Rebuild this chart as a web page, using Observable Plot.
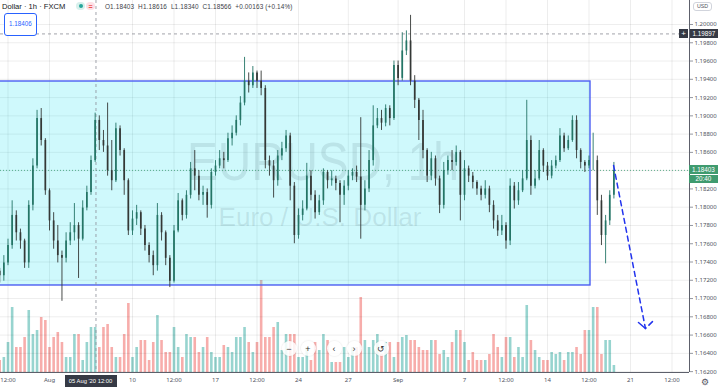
<!DOCTYPE html>
<html><head><meta charset="utf-8">
<script src="https://cdn.jsdelivr.net/npm/d3@7"></script>
<script src="https://cdn.jsdelivr.net/npm/@observablehq/plot@0.6"></script>
<style>
html,body{margin:0;padding:0;background:#fff;}
#wrap{position:relative;width:720px;height:387px;overflow:hidden;font-family:"Liberation Sans",Arial,sans-serif;}
#wrap svg{position:absolute;left:0;top:0;}
.ov{position:absolute;white-space:nowrap;line-height:1;}
.lbl{position:absolute;color:#fff;font-size:6.3px;display:flex;align-items:center;justify-content:center;}
.btn{position:absolute;width:15px;height:15px;border-radius:50%;background:rgba(255,255,255,0.85);box-shadow:0 0 2px rgba(0,0,0,0.15);display:flex;align-items:center;justify-content:center;font-size:9px;color:#333;}
</style></head>
<body><div id="wrap"></div>
<script>
// ---- data: EUR/USD, 6-hour bars (x in trading days from Mon 3 Aug) ----
const firstBar = -3;     // trading-day index of the first bar
const barStep = 0.25;    // 6 hours
const opens = [1.1730,1.1725,1.1739,1.1758,1.1791,1.1772,1.1763,1.1739,1.1802,1.1845,
 1.1897,1.1873,1.1818,1.1785,1.1763,1.1747,1.1744,1.1763,1.1772,1.1780,
 1.1765,1.1799,1.1816,1.1851,1.1895,1.1873,1.1867,1.1840,1.1829,1.1886,
 1.1862,1.1829,1.1774,1.1787,1.1794,1.1776,1.1758,1.1747,1.1736,1.1791,
 1.1772,1.1744,1.1719,1.1774,1.1807,1.1791,1.1813,1.1842,1.1834,1.1813,
 1.1816,1.1802,1.1838,1.1845,1.1853,1.1851,1.1875,1.1881,1.1895,1.1914,
 1.1938,1.1933,1.1947,1.1938,1.1930,1.1851,1.1845,1.1829,1.1856,1.1864,
 1.1878,1.1823,1.1769,1.1791,1.1798,1.1834,1.1813,1.1794,1.1807,1.1838,
 1.1829,1.1831,1.1826,1.1813,1.1823,1.1834,1.1838,1.1833,1.1802,1.1820,
 1.1851,1.1889,1.1897,1.1892,1.1908,1.1897,1.1955,1.1941,1.1971,1.1982,
 1.1938,1.1917,1.1895,1.1862,1.1834,1.1853,1.1831,1.1802,1.1840,1.1851,
 1.1849,1.1860,1.1813,1.1842,1.1834,1.1827,1.1820,1.1813,1.1820,1.1802,
 1.1785,1.1774,1.1780,1.1763,1.1823,1.1807,1.1818,1.1831,1.1873,1.1823,
 1.1831,1.1862,1.1845,1.1834,1.1845,1.1851,1.1878,1.1864,1.1873,1.1895,
 1.1862,1.1849,1.1845,1.1851,1.1851,1.1807,1.1769,1.1785,1.1813];
const highs = [1.1733,1.1747,1.1765,1.1807,1.1796,1.1776,1.1765,1.1807,1.1853,1.1906,
 1.1908,1.1875,1.1820,1.1794,1.1780,1.1752,1.1772,1.1783,1.1804,1.1783,
 1.1807,1.1823,1.1856,1.1903,1.1900,1.1884,1.1914,1.1873,1.1892,1.1889,
 1.1864,1.1831,1.1796,1.1802,1.1796,1.1780,1.1761,1.1752,1.1804,1.1794,
 1.1774,1.1747,1.1780,1.1815,1.1809,1.1818,1.1849,1.1862,1.1840,1.1823,
 1.1820,1.1842,1.1851,1.1862,1.1860,1.1881,1.1889,1.1900,1.1921,1.1964,
 1.1947,1.1954,1.1949,1.1949,1.1933,1.1856,1.1851,1.1862,1.1871,1.1884,
 1.1881,1.1827,1.1798,1.1807,1.1848,1.1840,1.1818,1.1813,1.1842,1.1840,
 1.1840,1.1834,1.1829,1.1829,1.1840,1.1842,1.1845,1.1898,1.1829,1.1862,
 1.1911,1.1908,1.1906,1.1912,1.1911,1.1960,1.1960,1.1991,1.1993,1.2010,
 1.1944,1.1919,1.1906,1.1864,1.1860,1.1856,1.1834,1.1849,1.1856,1.1862,
 1.1867,1.1862,1.1851,1.1845,1.1838,1.1829,1.1823,1.1829,1.1823,1.1807,
 1.1791,1.1791,1.1783,1.1831,1.1827,1.1827,1.1840,1.1917,1.1878,1.1840,
 1.1873,1.1864,1.1849,1.1851,1.1856,1.1886,1.1881,1.1878,1.1900,1.1900,
 1.1864,1.1851,1.1856,1.1881,1.1856,1.1813,1.1791,1.1818,1.1849];
const lows = [1.1717,1.1719,1.1736,1.1754,1.1763,1.1754,1.1733,1.1733,1.1796,1.1842,
 1.1867,1.1813,1.1774,1.1754,1.1739,1.1697,1.1739,1.1758,1.1763,1.1722,
 1.1763,1.1796,1.1813,1.1849,1.1862,1.1860,1.1834,1.1818,1.1827,1.1856,
 1.1813,1.1769,1.1769,1.1780,1.1769,1.1752,1.1739,1.1725,1.1730,1.1763,
 1.1736,1.1712,1.1717,1.1772,1.1785,1.1787,1.1809,1.1818,1.1807,1.1802,
 1.1788,1.1798,1.1834,1.1842,1.1842,1.1849,1.1867,1.1878,1.1889,1.1911,
 1.1925,1.1930,1.1930,1.1922,1.1842,1.1834,1.1810,1.1823,1.1851,1.1860,
 1.1807,1.1760,1.1765,1.1785,1.1796,1.1807,1.1787,1.1791,1.1802,1.1820,
 1.1823,1.1818,1.1783,1.1802,1.1818,1.1829,1.1827,1.1765,1.1796,1.1816,
 1.1845,1.1886,1.1884,1.1888,1.1889,1.1895,1.1933,1.1938,1.1966,1.1933,
 1.1908,1.1873,1.1853,1.1827,1.1829,1.1823,1.1793,1.1798,1.1835,1.1840,
 1.1845,1.1785,1.1807,1.1827,1.1820,1.1813,1.1807,1.1809,1.1794,1.1776,
 1.1768,1.1769,1.1754,1.1758,1.1798,1.1802,1.1816,1.1829,1.1813,1.1820,
 1.1829,1.1838,1.1829,1.1831,1.1842,1.1849,1.1860,1.1862,1.1871,1.1853,
 1.1842,1.1838,1.1842,1.1840,1.1791,1.1758,1.1738,1.1780,1.1809];
const closes = [1.1725,1.1739,1.1758,1.1791,1.1772,1.1763,1.1739,1.1802,1.1845,1.1897,
 1.1873,1.1818,1.1785,1.1763,1.1747,1.1744,1.1763,1.1772,1.1780,1.1765,
 1.1799,1.1816,1.1851,1.1895,1.1873,1.1867,1.1840,1.1829,1.1886,1.1862,
 1.1829,1.1774,1.1787,1.1794,1.1776,1.1758,1.1747,1.1736,1.1791,1.1772,
 1.1744,1.1719,1.1774,1.1807,1.1791,1.1813,1.1842,1.1834,1.1813,1.1816,
 1.1802,1.1838,1.1845,1.1853,1.1851,1.1875,1.1881,1.1895,1.1914,1.1938,
 1.1933,1.1947,1.1938,1.1930,1.1851,1.1845,1.1829,1.1856,1.1864,1.1878,
 1.1823,1.1769,1.1791,1.1798,1.1834,1.1813,1.1794,1.1807,1.1838,1.1829,
 1.1831,1.1826,1.1813,1.1823,1.1834,1.1838,1.1833,1.1802,1.1820,1.1851,
 1.1889,1.1897,1.1892,1.1908,1.1897,1.1955,1.1941,1.1971,1.1982,1.1938,
 1.1917,1.1895,1.1862,1.1834,1.1853,1.1831,1.1802,1.1840,1.1851,1.1849,
 1.1860,1.1813,1.1842,1.1834,1.1827,1.1820,1.1813,1.1820,1.1802,1.1785,
 1.1774,1.1780,1.1763,1.1823,1.1807,1.1818,1.1831,1.1873,1.1823,1.1831,
 1.1862,1.1845,1.1834,1.1845,1.1851,1.1878,1.1864,1.1873,1.1895,1.1862,
 1.1849,1.1845,1.1851,1.1851,1.1807,1.1769,1.1785,1.1813,1.18403];
const volumes = [1200,1500,3000,6500,2500,2500,3500,6200,3800,4200,
 5500,5200,2500,3500,4000,3000,1500,1500,3800,3800,
 1200,3000,4500,4500,2500,4500,4800,2500,1500,1500,
 3800,6900,1500,2500,3200,3200,1200,3000,5700,3200,
 2000,2000,4500,2500,1500,3800,3500,3500,2000,2500,
 3500,2000,1500,1500,2700,2500,2000,3500,3500,4500,
 3000,2000,3000,9200,3500,3500,4500,5000,2200,3800,
 3800,3800,1500,1500,2500,1200,3000,2200,3800,3200,
 1000,1000,1000,2500,1500,2500,2500,7500,3200,2500,
 3200,3800,1800,3000,3000,1500,3000,3500,3700,3200,
 3200,2500,2200,2200,3200,3200,1800,2200,1500,3000,
 4200,4200,3000,1200,2000,1200,1200,1200,1800,3800,
 2500,1500,3500,3500,1500,2500,1500,6700,3200,2200,
 1500,1200,1200,2000,1800,2000,1200,2000,2000,2500,
 1800,4200,4200,6500,6500,1800,3200,3200,700];

// axis ticks (the 1.18400 label sits under the last-price tag, as in the reference)
const priceTicks = [1.162,1.164,1.166,1.168,1.170,1.172,1.174,1.176,1.178,1.180,
 1.182,1.184,1.186,1.188,1.190,1.192,1.194,1.196,1.198,1.200];
const hiddenTickLabels = [1.184];
const timeTicks  = [-2.5, 0, 5, 7.5, 10, 12.5, 15, 18, 21, 25, 27.5, 30, 32.5, 35, 37.5];
const timeLabels = ["12:00","Aug","10","12:00","17","12:00","24","27","Sep","7","12:00","14","12:00","21","12:00"];

// drawings
const zoneDays = [-4, 32.59];
const zonePrices = [1.17143, 1.19376];
const projDays = [33.98, 35.9, 36.33];
const projPrices = [1.18457, 1.16672, 1.16749];
const wingDays = [35.48, 35.9];
const wingPrices = [1.16738, 1.16672];
const lastPrice = 1.18403;
const crossPrice = 1.19897;
const crossDay = 2.8;
const cursorLabelDay = 2.5;
const cursorLabel = "05 Aug '20   12:00";
const countdown = "20:40";
const ohlcNames = ["O","H","L","C"];
const ohlcValues = ["1.18403","1.18616","1.18340","1.18566"];
const changeText = "+0.00163 (+0.14%)";
const noteLabel = "1.18406";

// visible window
const xDomain = [-2.952, 38.554];
const yDomain = [1.161905, 1.202627];

const candles = opens.map((o, i) => ({
  d: firstBar + i * barStep, o, h: highs[i], l: lows[i], c: closes[i], v: volumes[i],
  up: closes[i] >= o
}));

const W = 720, H = 387;
const base = {width: W, height: H, marginLeft: 0, marginRight: 31, marginTop: 0, marginBottom: 15,
  style: {background: "transparent", overflow: "visible"}};

// volume layer
const volPlot = Plot.plot({
  ...base, marginTop: 272,
  x: {domain: xDomain, axis: null},
  y: {domain: [0, 10000], axis: null},
  marks: [
    Plot.ruleX(candles, {x: "d", y1: () => 0, y2: "v", stroke: d => d.up ? "#26a69a" : "#ef5350",
      strokeOpacity: 0.48, strokeWidth: 2.6})
  ]
});

const upCol = "#247566", dnCol = "#343836";
const zone = [{x1: zoneDays[0], x2: zoneDays[1], y1: zonePrices[0], y2: zonePrices[1]}];
const proj = projDays.map((d, i) => ({d, p: projPrices[i]}));
const wing = wingDays.map((d, i) => ({d, p: wingPrices[i]}));

const pricePlot = Plot.plot({
  ...base,
  x: {domain: xDomain, axis: null},
  y: {domain: yDomain, axis: null},
  marks: [
    Plot.gridY(priceTicks, {stroke: "#000", strokeOpacity: 0.07}),
    Plot.gridX(timeTicks, {stroke: "#000", strokeOpacity: 0.07}),
    Plot.rect(zone, {x1: "x1", x2: "x2", y1: "y1", y2: "y2", fill: "rgb(0,222,240)", fillOpacity: 0.19,
      stroke: "#4b5ef2", strokeWidth: 1.4, clip: true}),
    Plot.text(["EURUSD, 1h"], {frameAnchor: "middle", dx: -22, dy: -24, fontSize: 54,
      fill: "rgb(90,120,130)", fillOpacity: 0.16, fontFamily: "Liberation Sans"}),
    Plot.text(["Euro / U.S. Dollar"], {frameAnchor: "middle", dx: -25, dy: 31, fontSize: 25,
      fill: "rgb(90,120,130)", fillOpacity: 0.16, fontFamily: "Liberation Sans"}),
    Plot.ruleY([crossPrice], {stroke: "#8a8d96", strokeDasharray: "3,3", strokeWidth: 0.8}),
    Plot.ruleY([lastPrice], {stroke: "#3a9a70", strokeDasharray: "1,2", strokeWidth: 0.8}),
    Plot.ruleX([crossDay], {stroke: "#8a8d96", strokeDasharray: "3,3", strokeWidth: 0.8}),
    Plot.ruleX(candles, {x: "d", y1: "l", y2: "h", stroke: d => d.up ? upCol : dnCol, strokeWidth: 0.9}),
    Plot.ruleX(candles, {x: "d", y1: "o", y2: "c", stroke: d => d.up ? upCol : dnCol, strokeWidth: 1.7}),
    Plot.line(proj, {x: "d", y: "p", stroke: "#2233ee", strokeWidth: 1.5, strokeDasharray: "5,4"}),
    Plot.line(wing, {x: "d", y: "p", stroke: "#2233ee", strokeWidth: 1.5}),
    Plot.ruleX([xDomain[1]], {stroke: "#5d606b", strokeWidth: 1}),
    Plot.ruleY([yDomain[0]], {stroke: "#5d606b", strokeWidth: 1}),
    Plot.axisY(priceTicks, {anchor: "right", tickSize: 3, tickPadding: 2,
      tickFormat: d => hiddenTickLabels.includes(d) ? "" : d.toFixed(5),
      fontSize: 6, fill: "#50535e", stroke: "#9598a1", label: null}),
    Plot.axisX(timeTicks, {anchor: "bottom", tickSize: 0, tickPadding: 5,
      tickFormat: d => timeLabels[timeTicks.indexOf(d)], fontSize: 6, fill: "#50535e", label: null})
  ]
});

const wrap = document.getElementById("wrap");
wrap.appendChild(volPlot);
wrap.appendChild(pricePlot);

// squeeze watermark to the reference width
pricePlot.querySelectorAll("text").forEach(t => {
  if (t.textContent === "EURUSD, 1h") { t.setAttribute("textLength", 272); t.setAttribute("lengthAdjust", "spacingAndGlyphs"); }
  if (t.textContent === "Euro / U.S. Dollar") { t.setAttribute("textLength", 203); t.setAttribute("lengthAdjust", "spacingAndGlyphs"); }
});

const xs = pricePlot.scale("x"), ys = pricePlot.scale("y");
function add(html, css, cls) {
  const e = document.createElement("div");
  e.className = cls || "ov";
  e.innerHTML = html;
  Object.assign(e.style, css);
  wrap.appendChild(e);
  return e;
}

// header legend
add("Dollar · 1h · FXCM", {left: "2px", top: "3px", fontSize: "7.6px", color: "#131722"});
add("<span style='display:inline-block;width:4px;height:4px;border-radius:50%;background:#26a69a'></span>",
  {left: "76px", top: "2px", width: "9px", height: "8px", borderRadius: "4px", background: "#d7f0ec",
   display: "flex", alignItems: "center", justifyContent: "center"});
add("=", {left: "86px", top: "2px", width: "9px", height: "8px", borderRadius: "4px", background: "#fde0e6",
   color: "#ef5350", fontSize: "7px", display: "flex", alignItems: "center", justifyContent: "center", fontWeight: "bold"});
add(ohlcNames.map((n, i) => n + ohlcValues[i]).join("&nbsp;&nbsp;") + "&nbsp;&nbsp;" + changeText,
  {left: "105px", top: "3.5px", fontSize: "6.4px", color: "#3b3e47", letterSpacing: "0.15px"});

// note label at top left
add(noteLabel, {left: "4px", top: "13px", width: "33px", height: "23px", border: "1px solid #2962ff",
  borderRadius: "3px", background: "#fff", color: "#2962ff", fontSize: "6.3px", boxSizing: "border-box",
  display: "flex", alignItems: "center", justifyContent: "center"});

// currency tag
add("USD", {left: "693px", top: "2px", width: "19px", height: "9px", border: "1px solid #d1d4dc",
  borderRadius: "3px", color: "#50535e", fontSize: "5.3px", boxSizing: "border-box",
  display: "flex", alignItems: "center", justifyContent: "center", background: "#fff"});

// crosshair price label
const yc = ys.apply(crossPrice);
add(crossPrice.toFixed(5), {left: "690px", top: (yc - 4.5) + "px", width: "28px", height: "9px", background: "#363a45"}, "lbl");
add("+", {left: "679px", top: (yc - 4.5) + "px", width: "9px", height: "9px", background: "#363a45", fontSize: "8px"}, "lbl");

// last price label + countdown
const yl = ys.apply(lastPrice);
add(lastPrice.toFixed(5), {left: "689px", top: (yl - 4.5) + "px", width: "29px", height: "9px", background: "#3f9b6f"}, "lbl");
add(countdown, {left: "689px", top: (yl + 5) + "px", width: "29px", height: "8px", background: "#3f9b6f"}, "lbl");

// crosshair time label
const xcl = xs.apply(cursorLabelDay);
add(cursorLabel, {left: (xcl - 26) + "px", top: "375px", width: "52px", height: "12px", background: "#363a45",
  fontSize: "5.8px"}, "lbl");

// navigation buttons
[["−", 289], ["+", 308], ["‹", 334], ["›", 354], ["↺", 381]].forEach(([s, x]) =>
  add(s, {left: (x - 7.5) + "px", top: "341px"}, "btn"));

// settings gear
add("⚙", {left: "701px", top: "377.5px", fontSize: "8.5px", color: "#50535e"});
</script>
</body></html>
